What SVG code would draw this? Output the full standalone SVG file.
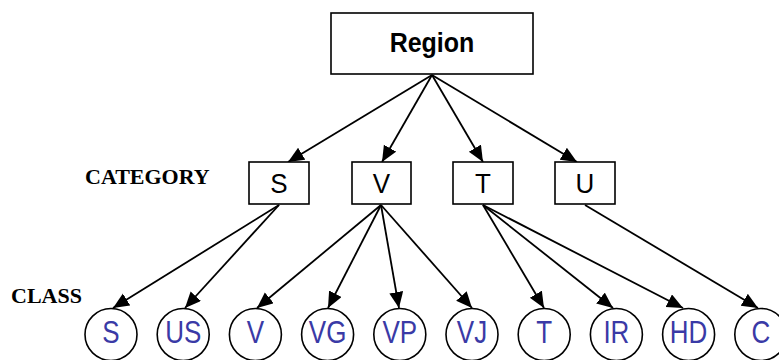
<svg xmlns="http://www.w3.org/2000/svg" width="779" height="360" viewBox="0 0 779 360">
<defs>
<marker id="arr" markerWidth="17" markerHeight="15" refX="16" refY="7" orient="auto" markerUnits="userSpaceOnUse">
<path d="M0,0 L16,7 L0,14 Z" fill="#000"/>
</marker>
</defs>
<style>
.box{fill:#fff;stroke:#000;stroke-width:1.6}
.circ{fill:#fff;stroke:#000;stroke-width:1.6}
.edge{stroke:#000;stroke-width:1.8;fill:none;marker-end:url(#arr)}
.cat{font-family:"Liberation Sans",Arial,sans-serif;font-size:26px;fill:#000;text-anchor:middle}
.cls{font-family:"Liberation Sans",Arial,sans-serif;font-size:26px;fill:#3a3aa6;text-anchor:middle}
.lbl{font-family:"Liberation Serif","Times New Roman",serif;font-size:22px;font-weight:bold;fill:#000}
</style>
<rect width="779" height="360" fill="#fff"/>
<g id="connectors">
<line class="edge" x1="432" y1="75" x2="288" y2="162"/>
<line class="edge" x1="432" y1="75" x2="382" y2="162"/>
<line class="edge" x1="432" y1="75" x2="483" y2="162"/>
<line class="edge" x1="432" y1="75" x2="577" y2="162"/>
<line class="edge" x1="279" y1="205" x2="113" y2="308"/>
<line class="edge" x1="279" y1="205" x2="185" y2="308"/>
<line class="edge" x1="381" y1="205" x2="257" y2="308"/>
<line class="edge" x1="381" y1="205" x2="328" y2="308"/>
<line class="edge" x1="381" y1="205" x2="399" y2="308"/>
<line class="edge" x1="381" y1="205" x2="472" y2="308"/>
<line class="edge" x1="483" y1="205" x2="544" y2="308"/>
<line class="edge" x1="483" y1="205" x2="613" y2="308"/>
<line class="edge" x1="483" y1="205" x2="683" y2="308"/>
<line class="edge" x1="585" y1="205" x2="758" y2="308"/>
</g>
<g id="region"><rect class="box" x="331" y="13" width="202" height="61"/><text transform="translate(432,52) scale(1,1.08)" font-family="Liberation Sans,Arial,sans-serif" font-size="25" font-weight="bold" text-anchor="middle">Region</text></g>
<g id="label-category"><text class="lbl" x="85" y="184">CATEGORY</text></g>
<g id="label-class"><text class="lbl" x="11" y="303">CLASS</text></g>
<g id="cat-S"><rect class="box" x="249" y="162" width="60" height="42"/><text class="cat" transform="translate(279,193) scale(1,1.05)">S</text></g>
<g id="cat-V"><rect class="box" x="352" y="162" width="59" height="42"/><text class="cat" transform="translate(381.5,193) scale(1,1.05)">V</text></g>
<g id="cat-T"><rect class="box" x="453" y="162" width="60" height="42"/><text class="cat" transform="translate(483,193) scale(1,1.05)">T</text></g>
<g id="cat-U"><rect class="box" x="555" y="162" width="60" height="42"/><text class="cat" transform="translate(585,193) scale(1,1.05)">U</text></g>
<g id="cls-S"><circle class="circ" cx="111" cy="334.5" r="26"/><text class="cls" transform="translate(111,343) scale(1,1.2)">S</text></g>
<g id="cls-US"><circle class="circ" cx="183.2" cy="334.5" r="26"/><text class="cls" transform="translate(183.2,343) scale(1,1.2)">US</text></g>
<g id="cls-V"><circle class="circ" cx="255.4" cy="334.5" r="26"/><text class="cls" transform="translate(255.4,343) scale(1,1.2)">V</text></g>
<g id="cls-VG"><circle class="circ" cx="327.6" cy="334.5" r="26"/><text class="cls" transform="translate(327.6,343) scale(1,1.2)">VG</text></g>
<g id="cls-VP"><circle class="circ" cx="399.8" cy="334.5" r="26"/><text class="cls" transform="translate(399.8,343) scale(1,1.2)">VP</text></g>
<g id="cls-VJ"><circle class="circ" cx="472" cy="334.5" r="26"/><text class="cls" transform="translate(472,343) scale(1,1.2)">VJ</text></g>
<g id="cls-T"><circle class="circ" cx="544.2" cy="334.5" r="26"/><text class="cls" transform="translate(544.2,343) scale(1,1.2)">T</text></g>
<g id="cls-IR"><circle class="circ" cx="616.4" cy="334.5" r="26"/><text class="cls" transform="translate(616.4,343) scale(1,1.2)">IR</text></g>
<g id="cls-HD"><circle class="circ" cx="688.6" cy="334.5" r="26"/><text class="cls" transform="translate(688.6,343) scale(1,1.2)">HD</text></g>
<g id="cls-C"><circle class="circ" cx="760.8" cy="334.5" r="26"/><text class="cls" transform="translate(760.8,343) scale(1,1.2)">C</text></g>
</svg>
